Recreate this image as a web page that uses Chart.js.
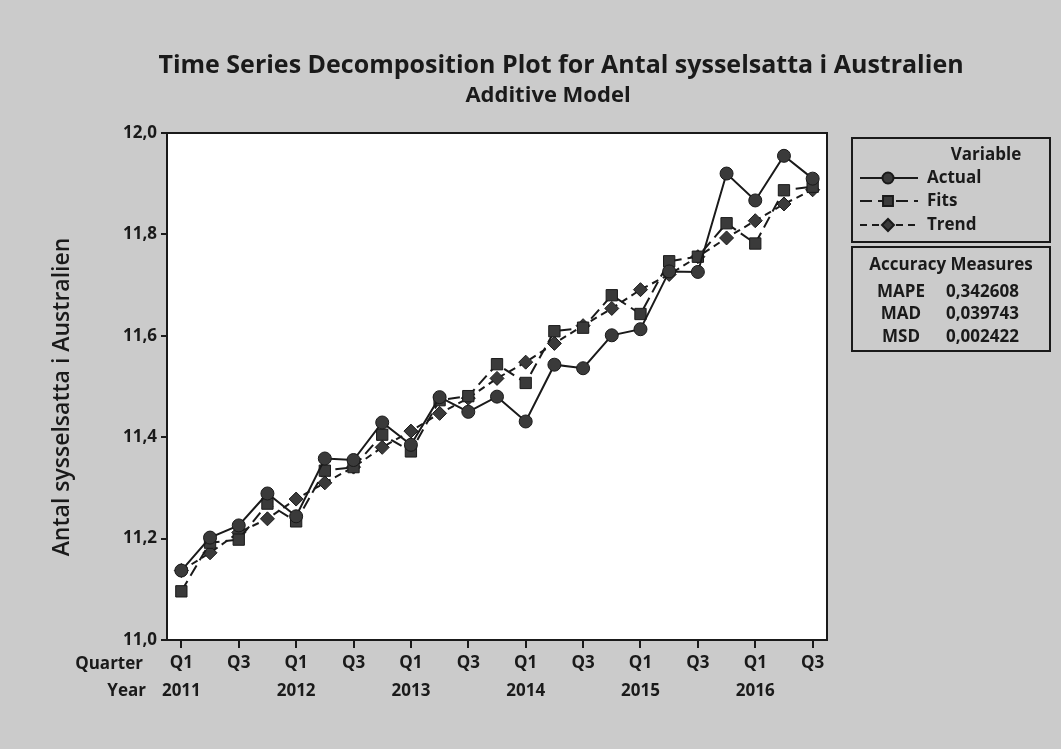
<!DOCTYPE html>
<html>
<head>
<meta charset="utf-8">
<title>Time Series Decomposition Plot</title>
<script src="https://cdn.jsdelivr.net/npm/chart.js@4.4.0/dist/chart.umd.min.js"></script>
<style>
  html, body { margin: 0; padding: 0; background: #cbcbcb; }
  #wrap { width: 1061px; height: 749px; }
</style>
</head>
<body>
<div id="wrap"><canvas id="decompChart" width="1061" height="749"></canvas></div>
<script>
// data (quarterly, Q1 2011 - Q3 2016)
var quarters = ["Q1", "Q2", "Q3", "Q4", "Q1", "Q2", "Q3", "Q4", "Q1", "Q2", "Q3", "Q4",
  "Q1", "Q2", "Q3", "Q4", "Q1", "Q2", "Q3", "Q4", "Q1", "Q2", "Q3"];
var years = ["2011", "2011", "2011", "2011", "2012", "2012", "2012", "2012", "2013", "2013", "2013", "2013",
  "2014", "2014", "2014", "2014", "2015", "2015", "2015", "2015", "2016", "2016", "2016"];
var actual = [11.137, 11.202, 11.226, 11.289, 11.244, 11.358, 11.355, 11.429, 11.385, 11.479, 11.450, 11.480,
  11.431, 11.543, 11.536, 11.601, 11.613, 11.727, 11.726, 11.920, 11.867, 11.955, 11.910];
var fits = [11.096, 11.192, 11.198, 11.269, 11.234, 11.334, 11.341, 11.405, 11.372, 11.473, 11.481, 11.544,
  11.507, 11.609, 11.616, 11.680, 11.643, 11.747, 11.756, 11.822, 11.782, 11.887, 11.894];
var trend = [11.137, 11.172, 11.212, 11.239, 11.278, 11.310, 11.341, 11.380, 11.412, 11.447, 11.477, 11.516,
  11.548, 11.585, 11.620, 11.654, 11.691, 11.721, 11.756, 11.793, 11.827, 11.860, 11.888];
var measureNames = ["MAPE", "MAD", "MSD"];
var measureValues = ["0,342608", "0,039743", "0,002422"];

var ink = "#1a1a1a";
var markFill = "#3a3a3a";
var fontName = "'Open Sans', 'Noto Sans', sans-serif";

var labels = quarters.map(function (q, i) {
  return q + " " + years[i];
});

// background, frame, titles and the boxed legend
var decoPlugin = {
  id: "deco",
  beforeDraw: function (chart) {
    var ctx = chart.ctx, a = chart.chartArea;
    ctx.save();
    ctx.fillStyle = "#cbcbcb";
    ctx.fillRect(0, 0, chart.width, chart.height);
    ctx.fillStyle = "#ffffff";
    ctx.fillRect(a.left, a.top, a.right - a.left, a.bottom - a.top);
    ctx.restore();
  },
  afterDraw: function (chart) {
    var ctx = chart.ctx, a = chart.chartArea;
    ctx.save();
    ctx.strokeStyle = ink;
    ctx.lineWidth = 2;
    ctx.strokeRect(a.left, a.top, a.right - a.left, a.bottom - a.top);

    ctx.fillStyle = ink;
    ctx.textAlign = "center";
    ctx.textBaseline = "middle";
    ctx.font = "bold 25px " + fontName;
    ctx.fillText("Time Series Decomposition Plot for Antal sysselsatta i Australien", 561, 66);
    ctx.font = "bold 22px " + fontName;
    ctx.fillText("Additive Model", 548, 96);

    // y axis title
    ctx.save();
    ctx.translate(62, 397);
    ctx.rotate(-Math.PI / 2);
    ctx.font = "600 23px " + fontName;
    ctx.fillText("Antal sysselsatta i Australien", 0, 0);
    ctx.restore();

    // row headings for the x axis
    ctx.font = "bold 17px " + fontName;
    ctx.textAlign = "right";
    ctx.fillText("Quarter", 143, a.bottom + 24);
    ctx.fillText("Year", 146, a.bottom + 51);

    // legend box
    var bx = 852, bw = 198;
    ctx.lineWidth = 2;
    ctx.strokeRect(bx, 138, bw, 104);
    ctx.strokeRect(bx, 247, bw, 104);
    ctx.textAlign = "center";
    ctx.font = "bold 17px " + fontName;
    ctx.fillText("Variable", 986, 155);
    var rowsY = [178, 201, 225];
    chart.data.datasets.forEach(function (ds, i) {
      var y = rowsY[i];
      ctx.save();
      ctx.strokeStyle = ds.borderColor;
      ctx.lineWidth = ds.borderWidth;
      ctx.setLineDash(ds.borderDash || []);
      ctx.beginPath();
      ctx.moveTo(860, y);
      ctx.lineTo(918, y);
      ctx.stroke();
      ctx.setLineDash([]);
      ctx.fillStyle = ds.pointBackgroundColor;
      ctx.strokeStyle = ds.pointBorderColor;
      Chart.helpers.drawPoint(ctx, {
        pointStyle: ds.pointStyle,
        radius: ds.pointRadius - 1,
        borderWidth: 1,
        rotation: 0
      }, 888, y);
      ctx.restore();
      ctx.textAlign = "left";
      ctx.fillText(ds.label, 927, y);
    });

    ctx.textAlign = "center";
    ctx.fillText("Accuracy Measures", 951, 265);
    measureNames.forEach(function (name, i) {
      var y = 292 + i * 22.5;
      ctx.textAlign = "center";
      ctx.fillText(name, 901, y);
      ctx.textAlign = "left";
      ctx.fillText(measureValues[i], 946, y);
    });
    ctx.restore();
  }
};

var ctxDecomp = document.getElementById("decompChart").getContext("2d");
var decompChart = new Chart(ctxDecomp, {
  type: "line",
  data: {
    labels: labels,
    datasets: [
      {
        label: "Actual",
        data: actual,
        borderColor: ink,
        borderWidth: 2,
        pointStyle: "circle",
        pointRadius: 6.5,
        pointBackgroundColor: markFill,
        pointBorderColor: ink,
        pointBorderWidth: 1,
      },
      {
        label: "Fits",
        data: fits,
        borderColor: ink,
        borderWidth: 2,
        borderDash: [12, 6],
        pointStyle: "rect",
        pointRadius: 8,
        pointBackgroundColor: markFill,
        pointBorderColor: ink,
        pointBorderWidth: 1,
      },
      {
        label: "Trend",
        data: trend,
        borderColor: ink,
        borderWidth: 2,
        borderDash: [7, 5],
        pointStyle: "rectRot",
        pointRadius: 7,
        pointBackgroundColor: markFill,
        pointBorderColor: ink,
        pointBorderWidth: 1,
      },
    ],
  },
  options: {
    responsive: false,
    animation: false,
    layout: { padding: { top: 133, right: 234, left: 0, bottom: 0 } },
    plugins: {
      legend: { display: false },
      tooltip: { enabled: false },
    },
    scales: {
      x: {
        offset: true,
        afterFit: function (s) { s.height = 109; },
        grid: { drawOnChartArea: false, drawTicks: true, tickLength: 8, color: ink, lineWidth: 2 },
        border: { display: false },
        ticks: {
          autoSkip: false,
          maxRotation: 0,
          padding: 2,
          color: ink,
          font: { family: fontName, size: 17, weight: "bold", lineHeight: 1.6 },
          callback: function (val, index) {
            if (index % 2 !== 0) return null;
            return quarters[index] === "Q1" ? [quarters[index], years[index]] : quarters[index];
          },
        },
      },
      y: {
        min: 11.0,
        max: 12.0,
        afterFit: function (s) { s.width = 167; },
        grid: { drawOnChartArea: false, drawTicks: true, tickLength: 6, color: ink, lineWidth: 2 },
        border: { display: false },
        ticks: {
          stepSize: 0.2,
          padding: 4,
          color: ink,
          font: { family: fontName, size: 17, weight: "bold" },
          callback: function (v) { return v.toFixed(1).replace(".", ","); },
        },
      },
    },
  },
  plugins: [decoPlugin],
});
</script>
</body>
</html>
